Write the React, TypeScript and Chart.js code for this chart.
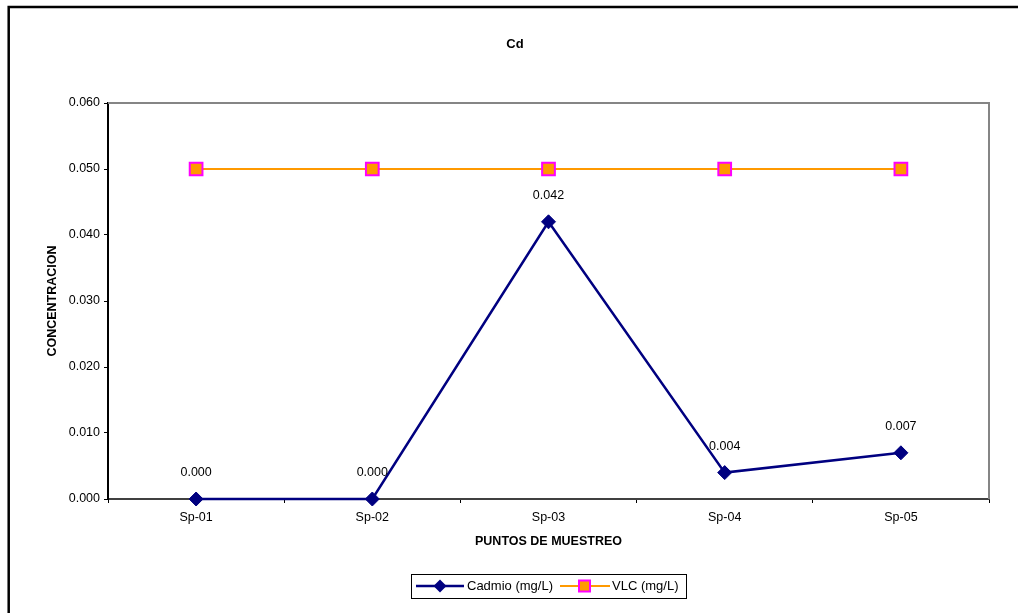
import React, { useEffect, useRef } from "react";
import { Chart, registerables } from "chart.js";

Chart.register(...registerables);

// Sampling points and measured values
const categories = ["Sp-01", "Sp-02", "Sp-03", "Sp-04", "Sp-05"];
const cadmio = [0.0, 0.0, 0.042, 0.004, 0.007];
const vlc = [0.05, 0.05, 0.05, 0.05, 0.05];
const yTickValues = [0, 0.01, 0.02, 0.03, 0.04, 0.05, 0.06];
const seriesNames = ["Cadmio (mg/L)", "VLC (mg/L)"];
const chartTitle = "Cd";
const xTitle = "PUNTOS DE MUESTREO";
const yTitle = "CONCENTRACION";

const FONT = "'Liberation Sans', Arial, sans-serif";
const NAVY = "#000080";
const ORANGE = "#FF9900";
const MAGENTA = "#FF00FF";

function drawDiamond(ctx: CanvasRenderingContext2D, x: number, y: number, r: number) {
  ctx.beginPath();
  ctx.moveTo(x, y - r);
  ctx.lineTo(x + r, y);
  ctx.lineTo(x, y + r);
  ctx.lineTo(x - r, y);
  ctx.closePath();
  ctx.fillStyle = NAVY;
  ctx.fill();
}

function drawSquare(ctx: CanvasRenderingContext2D, x: number, y: number, half: number) {
  ctx.fillStyle = ORANGE;
  ctx.fillRect(x - half, y - half, half * 2, half * 2);
  ctx.strokeStyle = MAGENTA;
  ctx.lineWidth = 2;
  ctx.strokeRect(x - half, y - half, half * 2, half * 2);
}

const decorPlugin = {
  id: "decor",
  beforeDraw(chart: any) {
    const ctx = chart.ctx as CanvasRenderingContext2D;
    ctx.save();
    ctx.fillStyle = "#ffffff";
    ctx.fillRect(0, 0, chart.width, chart.height);
    // outer frame
    ctx.strokeStyle = "#000000";
    ctx.lineWidth = 2.5;
    ctx.beginPath();
    ctx.moveTo(8.7, chart.height + 5);
    ctx.lineTo(8.7, 7);
    ctx.lineTo(chart.width + 5, 7);
    ctx.stroke();
    ctx.restore();
  },
  beforeDatasetsDraw(chart: any) {
    const ctx = chart.ctx as CanvasRenderingContext2D;
    const a = chart.chartArea;
    ctx.save();
    ctx.strokeStyle = "#858585";
    ctx.lineWidth = 2;
    ctx.beginPath();
    ctx.moveTo(a.left, a.top);
    ctx.lineTo(a.right, a.top);
    ctx.lineTo(a.right, a.bottom);
    ctx.stroke();
    ctx.restore();
  },
  afterDraw(chart: any) {
    const ctx = chart.ctx as CanvasRenderingContext2D;
    ctx.save();
    // title
    ctx.fillStyle = "#000000";
    ctx.font = `bold 13px ${FONT}`;
    ctx.textAlign = "center";
    ctx.textBaseline = "middle";
    ctx.fillText(chartTitle, 515, 44);

    // value labels above the Cadmio points
    ctx.font = `12.5px ${FONT}`;
    const meta = chart.getDatasetMeta(0);
    meta.data.forEach((pt: any, i: number) => {
      ctx.fillText(cadmio[i].toFixed(3), pt.x, pt.y - 26);
    });

    // legend
    const ly = 586;
    ctx.strokeStyle = "#000000";
    ctx.lineWidth = 1;
    ctx.strokeRect(411.5, 574.5, 275, 24);
    ctx.strokeStyle = NAVY;
    ctx.lineWidth = 2.5;
    ctx.beginPath();
    ctx.moveTo(416, ly);
    ctx.lineTo(464, ly);
    ctx.stroke();
    drawDiamond(ctx, 440, ly, 6.5);
    ctx.strokeStyle = ORANGE;
    ctx.lineWidth = 2;
    ctx.beginPath();
    ctx.moveTo(560, ly);
    ctx.lineTo(610, ly);
    ctx.stroke();
    drawSquare(ctx, 584.5, ly, 5.5);
    ctx.fillStyle = "#000000";
    ctx.font = `13px ${FONT}`;
    ctx.textAlign = "left";
    ctx.fillText(seriesNames[0], 467, ly);
    ctx.fillText(seriesNames[1], 612, ly);
    ctx.restore();
  },
};

export default function App() {
  const canvasRef = useRef<HTMLCanvasElement | null>(null);

  useEffect(() => {
    const canvas = canvasRef.current;
    if (!canvas) return;
    const chart = new Chart(canvas, {
      type: "line",
      data: {
        labels: categories,
        datasets: [
          {
            label: seriesNames[0],
            data: cadmio,
            borderColor: NAVY,
            backgroundColor: NAVY,
            borderWidth: 2.5,
            tension: 0,
            pointStyle: "rectRot",
            pointRadius: 7,
            pointBackgroundColor: NAVY,
            pointBorderColor: NAVY,
            pointBorderWidth: 1,
            clip: false,
          },
          {
            label: seriesNames[1],
            data: vlc,
            borderColor: ORANGE,
            backgroundColor: ORANGE,
            borderWidth: 2,
            tension: 0,
            pointStyle: "rect",
            pointRadius: 9,
            pointBackgroundColor: ORANGE,
            pointBorderColor: MAGENTA,
            pointBorderWidth: 2,
            clip: false,
          },
        ],
      },
      options: {
        responsive: false,
        animation: false,
        events: [],
        layout: { padding: { left: 0, top: 103, right: 29, bottom: 54 } },
        plugins: {
          legend: { display: false },
          title: { display: false },
          tooltip: { enabled: false },
        },
        scales: {
          x: {
            type: "category",
            offset: true,
            grid: {
              offset: true,
              drawOnChartArea: false,
              drawTicks: true,
              tickLength: 4,
              color: "#000000",
              lineWidth: 1,
            },
            border: { display: true, color: "#404040", width: 2 },
            ticks: {
              color: "#000000",
              font: { family: FONT, size: 12.5 },
              padding: 7,
              maxRotation: 0,
            },
            title: {
              display: true,
              text: xTitle,
              color: "#000000",
              font: { family: FONT, size: 12.5, weight: "bold" },
              padding: { top: 0, bottom: 10 },
            },
            afterFit(scale: any) {
              scale.height = 60;
            },
          },
          y: {
            min: 0,
            max: 0.06,
            grid: {
              drawOnChartArea: false,
              drawTicks: true,
              tickLength: 4,
              color: "#000000",
              lineWidth: 1,
            },
            border: { display: true, color: "#000000", width: 2 },
            afterBuildTicks(scale: any) {
              scale.ticks = yTickValues.map((v) => ({ value: v }));
            },
            ticks: {
              color: "#000000",
              font: { family: FONT, size: 12.5 },
              padding: 4,
              callback: (v: any) => Number(v).toFixed(3),
            },
            title: {
              display: true,
              text: yTitle,
              color: "#000000",
              font: { family: FONT, size: 12.5, weight: "bold" },
              padding: { top: 45, bottom: 0 },
            },
            afterFit(scale: any) {
              scale.width = 108;
            },
          },
        },
      },
      plugins: [decorPlugin],
    });
    return () => chart.destroy();
  }, []);

  return (
    <div style={{ position: "fixed", left: 0, top: 0, width: 1018, height: 613, background: "#fff" }}>
      <canvas ref={canvasRef} width={1018} height={613} style={{ display: "block" }} />
    </div>
  );
}
